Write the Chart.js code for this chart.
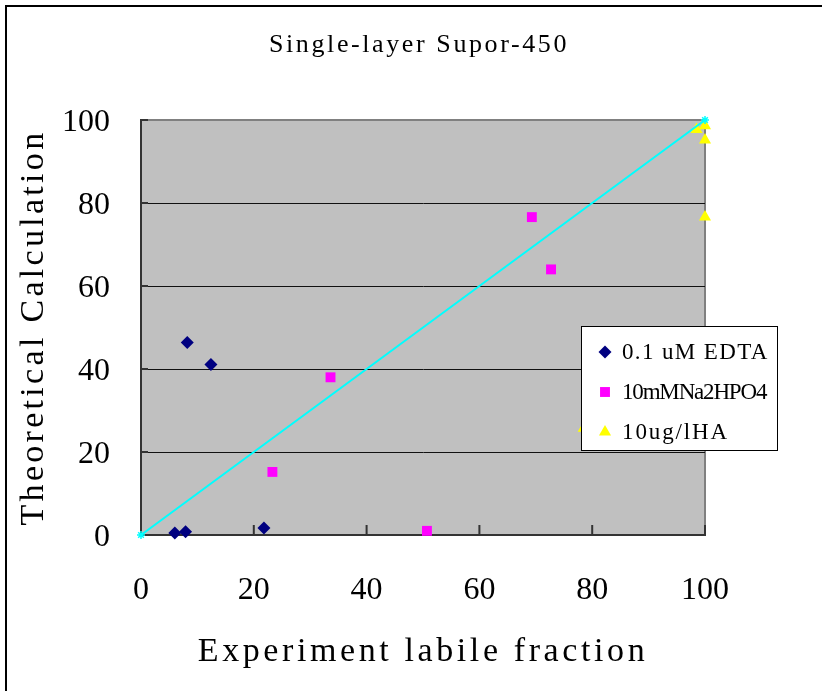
<!DOCTYPE html>
<html>
<head>
<meta charset="utf-8">
<script src="https://cdn.jsdelivr.net/npm/chart.js@4.4.1/dist/chart.umd.min.js"></script>
<style>
  html, body { margin: 0; padding: 0; background: #fff; overflow: hidden; }
  #wrap { position: relative; width: 822px; height: 691px; overflow: hidden; }
  #frame { position: absolute; left: 5px; top: 5px; width: 900px; height: 800px;
           border-left: 2px solid #000; border-top: 2px solid #000; }
  canvas { position: absolute; left: 0; top: 0; }
</style>
</head>
<body>
<div id="wrap">
  <div id="frame"></div>
  <canvas id="chart" width="822" height="691"></canvas>
</div>
<script>
// values
const chartTitle = 'Single-layer Supor-450'
const xTitle = 'Experiment labile fraction'
const yTitle = 'Theoretical Calculation'
const seriesLabels = ['0.1 uM EDTA', '10mMNa2HPO4', '10ug/lHA']

const edtaX = [6.0, 7.9, 8.2, 12.4, 21.8]
const edtaY = [0.5, 0.8, 46.4, 41.1, 1.7]

const phosX = [23.3, 33.6, 50.7, 69.3, 72.7]
const phosY = [15.2, 38.0, 1.0, 76.6, 64.0]

const haX = [78.5, 98.5, 100, 100, 100]
const haY = [25.7, 97.7, 98.6, 95.2, 76.6]

const refX = [0, 100]
const refY = [0, 100]

const axisMin = 0
const axisMax = 100
const axisStep = 20

const fontFamily = "'Liberation Serif', 'DejaVu Serif', serif"

function toPoints(xs, ys) {
  return xs.map((x, i) => ({ x: x, y: ys[i] }))
}

// gray plot area with its frame, and the short inward tick marks
const plotFrame = {
  id: 'plotFrame',
  beforeDraw(chart) {
    const { ctx, chartArea: a } = chart
    ctx.save()
    ctx.fillStyle = '#C0C0C0'
    ctx.fillRect(a.left, a.top, a.right - a.left, a.bottom - a.top)
    ctx.strokeStyle = '#808080'
    ctx.lineWidth = 2
    ctx.beginPath()
    ctx.moveTo(a.left, a.top)
    ctx.lineTo(a.right, a.top)
    ctx.lineTo(a.right, a.bottom)
    ctx.stroke()
    ctx.restore()
  },
  beforeDatasetsDraw(chart) {
    const { ctx, chartArea: a, scales } = chart
    ctx.save()
    ctx.strokeStyle = '#333'
    ctx.lineWidth = 2
    ctx.beginPath()
    scales.x.ticks.forEach(t => {
      const px = scales.x.getPixelForValue(t.value)
      ctx.moveTo(px, a.bottom)
      ctx.lineTo(px, a.bottom - 10)
    })
    scales.y.ticks.forEach(t => {
      const py = scales.y.getPixelForValue(t.value)
      ctx.moveTo(a.left, py)
      ctx.lineTo(a.left + 7, py)
    })
    ctx.stroke()
    ctx.restore()
  }
}

// titles (loosely spaced like the original) and the boxed legend inside the plot
const titleAndLegend = {
  id: 'titleAndLegend',
  afterDraw(chart) {
    const { ctx, chartArea: a } = chart
    const midX = (a.left + a.right) / 2
    const midY = (a.top + a.bottom) / 2

    ctx.save()
    ctx.fillStyle = '#000'
    ctx.textAlign = 'center'
    ctx.textBaseline = 'alphabetic'

    ctx.font = '26px ' + fontFamily
    ctx.letterSpacing = '2.6px'
    ctx.fillText(chartTitle, 419, 52)

    ctx.font = '34px ' + fontFamily
    ctx.letterSpacing = '3.6px'
    ctx.fillText(xTitle, midX, 661)

    ctx.save()
    ctx.translate(43, midY)
    ctx.rotate(-Math.PI / 2)
    ctx.letterSpacing = '3.3px'
    ctx.fillText(yTitle, 0, 0)
    ctx.restore()

    const box = { left: 581, top: 326, width: 196, height: 124 }
    ctx.fillStyle = '#fff'
    ctx.fillRect(box.left, box.top, box.width, box.height)
    ctx.strokeStyle = '#000'
    ctx.lineWidth = 1
    ctx.strokeRect(box.left + 0.5, box.top + 0.5, box.width, box.height)

    // the original font is fixed-pitch: give every character about the same advance
    ctx.font = '23px ' + fontFamily
    ctx.textAlign = 'left'
    ctx.textBaseline = 'middle'
    const charAdvance = 13.4
    const rows = chart.data.datasets.filter(d => d.inLegend)
    rows.forEach((d, i) => {
      const y = box.top + 26 + i * 40
      ctx.fillStyle = d.backgroundColor
      Chart.helpers.drawPoint(ctx, {
        pointStyle: d.pointStyle,
        radius: d.pointRadius,
        rotation: 0,
        borderWidth: 0
      }, box.left + 24, y)
      ctx.letterSpacing = '0px'
      const natural = ctx.measureText(d.label).width
      const span = charAdvance * d.label.length - 2
      ctx.letterSpacing = ((span - natural) / (d.label.length - 1)) + 'px'
      ctx.fillStyle = '#000'
      ctx.fillText(d.label, box.left + 41, y + 1)
    })
    ctx.restore()
  }
}

const tickFont = { family: fontFamily, size: 32 }

new Chart(document.getElementById('chart'), {
  type: 'scatter',
  data: {
    datasets: [
      {
        label: '1:1',
        data: toPoints(refX, refY),
        showLine: true,
        borderColor: '#00FFFF',
        borderWidth: 2,
        pointStyle: 'star',
        pointRadius: 4,
        pointBorderColor: '#00FFFF',
        pointBorderWidth: 1.5,
        backgroundColor: '#00FFFF',
        clip: false,
        inLegend: false
      },
      {
        label: seriesLabels[0],
        data: toPoints(edtaX, edtaY),
        pointStyle: 'rectRot',
        pointRadius: 6.5,
        backgroundColor: '#000080',
        borderColor: '#000080',
        borderWidth: 0,
        clip: false,
        inLegend: true
      },
      {
        label: seriesLabels[1],
        data: toPoints(phosX, phosY),
        pointStyle: 'rect',
        pointRadius: 7,
        backgroundColor: '#FF00FF',
        borderColor: '#FF00FF',
        borderWidth: 0,
        clip: false,
        inLegend: true
      },
      {
        label: seriesLabels[2],
        data: toPoints(haX, haY),
        pointStyle: 'triangle',
        pointRadius: 7,
        backgroundColor: '#FFFF00',
        borderColor: '#FFFF00',
        borderWidth: 0,
        clip: false,
        inLegend: true
      }
    ]
  },
  options: {
    responsive: false,
    animation: false,
    layout: { padding: { left: 0, top: 120, right: 117, bottom: 0 } },
    plugins: {
      legend: { display: false },
      title: { display: false },
      tooltip: { enabled: false }
    },
    scales: {
      x: {
        type: 'linear',
        min: axisMin,
        max: axisMax,
        ticks: { stepSize: axisStep, color: '#000', font: tickFont, padding: 36 },
        grid: { display: false, drawTicks: false },
        border: { display: true, color: '#333', width: 2 },
        afterFit(scale) { scale.height = 156 }
      },
      y: {
        type: 'linear',
        min: axisMin,
        max: axisMax,
        ticks: { stepSize: axisStep, color: '#000', font: tickFont, padding: 31, labelOffset: 3 },
        grid: {
          drawTicks: false,
          lineWidth: 1,
          color: c => (c.tick && (c.tick.value === axisMin || c.tick.value === axisMax)) ? 'rgba(0,0,0,0)' : '#111'
        },
        border: { display: true, color: '#333', width: 2 },
        afterFit(scale) { scale.width = 141 }
      }
    }
  },
  plugins: [plotFrame, titleAndLegend]
})
</script>
</body>
</html>
